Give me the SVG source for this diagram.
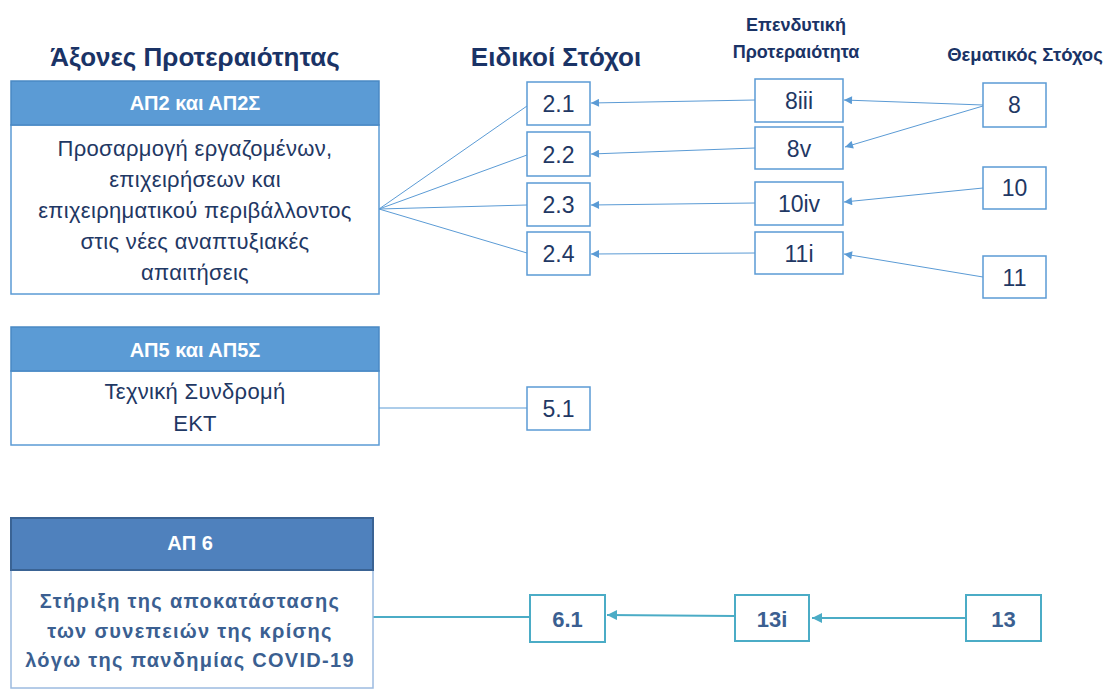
<svg xmlns="http://www.w3.org/2000/svg" width="1112" height="691" viewBox="0 0 1112 691">
<style>
.title{font-family:"Liberation Sans",Arial,sans-serif;font-weight:bold;fill:#1a3366;text-anchor:middle}
.hdr{font-family:"Liberation Sans",Arial,sans-serif;font-weight:bold;fill:#ffffff;text-anchor:middle;font-size:20px}
.body{font-family:"Liberation Sans",Arial,sans-serif;fill:#1f3864;text-anchor:middle;font-size:22px;letter-spacing:0.3px}
.num{font-family:"Liberation Sans",Arial,sans-serif;fill:#1f3864;text-anchor:middle;font-size:23px}
.box{fill:#ffffff;stroke:#5b9bd5;stroke-width:1.5}
.hbox{fill:#5b9bd5;stroke:#4a89c4;stroke-width:1.5}
.conn{stroke:#5b9bd5;stroke-width:1;fill:none}
.tbox{fill:#ffffff;stroke:#4bacc6;stroke-width:2}
.tconn{stroke:#4bacc6;stroke-width:2;fill:none}
.b6{font-family:"Liberation Sans",Arial,sans-serif;font-weight:bold;fill:#3b5f91;text-anchor:middle}
</style>
<defs>
<marker id="ah" viewBox="0 0 10 10" refX="10" refY="5" markerWidth="10" markerHeight="8" markerUnits="userSpaceOnUse" orient="auto"><path d="M0,0 L10,5 L0,10 z" fill="#5b9bd5"/></marker>
<marker id="ah2" viewBox="0 0 10 10" refX="10" refY="5" markerWidth="14" markerHeight="10" markerUnits="userSpaceOnUse" orient="auto"><path d="M0,0 L10,5 L0,10 z" fill="#4bacc6"/></marker>
</defs>
<rect width="1112" height="691" fill="#ffffff"/>

<g id="titles">
<text class="title" x="195" y="66" font-size="26">Άξονες Προτεραιότητας</text>
<text class="title" x="556" y="66" font-size="26">Ειδικοί Στόχοι</text>
<text class="title" x="796" y="31" font-size="18">Επενδυτική</text>
<text class="title" x="796" y="58" font-size="18">Προτεραιότητα</text>
<text class="title" x="1025" y="61" font-size="18.5">Θεματικός Στόχος</text>
</g>

<g id="connectors">
<line class="conn" x1="379" y1="209" x2="527" y2="106"/>
<line class="conn" x1="379" y1="209" x2="527" y2="155"/>
<line class="conn" x1="379" y1="209" x2="527" y2="205"/>
<line class="conn" x1="379" y1="209" x2="527" y2="253"/>
<line class="conn" x1="755" y1="100" x2="591" y2="103" marker-end="url(#ah)"/>
<line class="conn" x1="755" y1="148" x2="591" y2="154" marker-end="url(#ah)"/>
<line class="conn" x1="755" y1="203" x2="591" y2="205" marker-end="url(#ah)"/>
<line class="conn" x1="755" y1="253" x2="591" y2="254" marker-end="url(#ah)"/>
<line class="conn" x1="983" y1="105" x2="844" y2="100" marker-end="url(#ah)"/>
<line class="conn" x1="983" y1="106" x2="845" y2="147" marker-end="url(#ah)"/>
<line class="conn" x1="983" y1="188" x2="844" y2="202" marker-end="url(#ah)"/>
<line class="conn" x1="983" y1="277" x2="844" y2="254" marker-end="url(#ah)"/>
<line class="conn" x1="379" y1="408" x2="527" y2="408"/>
<line class="tconn" x1="373" y1="617" x2="530" y2="617"/>
<line class="tconn" x1="735" y1="616" x2="607" y2="615" marker-end="url(#ah2)"/>
<line class="tconn" x1="965" y1="618" x2="812" y2="618" marker-end="url(#ah2)"/>
</g>

<g id="ap2">
<rect class="box" x="11" y="125" width="368" height="169"/>
<rect class="hbox" x="11" y="81" width="368" height="44"/>
<text class="hdr" x="195" y="110">ΑΠ2 και ΑΠ2Σ</text>
<text class="body" x="195" y="156">Προσαρμογή εργαζομένων,</text>
<text class="body" x="195" y="187">επιχειρήσεων και</text>
<text class="body" x="195" y="218">επιχειρηματικού περιβάλλοντος</text>
<text class="body" x="195" y="249">στις νέες αναπτυξιακές</text>
<text class="body" x="195" y="280">απαιτήσεις</text>
</g>

<g id="ap5">
<rect class="box" x="11" y="371" width="368" height="74"/>
<rect class="hbox" x="11" y="327" width="368" height="44"/>
<text class="hdr" x="195" y="357">ΑΠ5 και ΑΠ5Σ</text>
<text class="body" x="195" y="399">Τεχνική Συνδρομή</text>
<text class="body" x="195" y="431">ΕΚΤ</text>
</g>

<g id="ap6">
<rect x="11" y="570" width="362" height="118" fill="#ffffff" stroke="#9cbbe0" stroke-width="1.5"/>
<rect x="11" y="518" width="362" height="52" fill="#4f81bd" stroke="#3a6394" stroke-width="2"/>
<text class="hdr" x="190" y="550">ΑΠ 6</text>
<text class="b6" x="190" y="608" font-size="20" letter-spacing="1.3">Στήριξη της αποκατάστασης</text>
<text class="b6" x="190" y="638" font-size="20" letter-spacing="1.3">των συνεπειών της κρίσης</text>
<text class="b6" x="190" y="667" font-size="20" letter-spacing="1.3">λόγω της πανδημίας COVID-19</text>
</g>

<g id="n21"><rect class="box" x="527" y="82" width="63" height="43"/><text class="num" x="558.5" y="112">2.1</text></g>
<g id="n22"><rect class="box" x="527" y="132" width="63" height="44"/><text class="num" x="558.5" y="163">2.2</text></g>
<g id="n23"><rect class="box" x="527" y="183" width="63" height="43"/><text class="num" x="558.5" y="213">2.3</text></g>
<g id="n24"><rect class="box" x="527" y="232" width="63" height="43"/><text class="num" x="558.5" y="262">2.4</text></g>
<g id="n51"><rect class="box" x="527" y="387" width="63" height="43"/><text class="num" x="558.5" y="417">5.1</text></g>

<g id="p8iii"><rect class="box" x="755" y="79" width="88" height="43"/><text class="num" x="799" y="109">8iii</text></g>
<g id="p8v"><rect class="box" x="755" y="127" width="88" height="42"/><text class="num" x="799" y="157">8v</text></g>
<g id="p10iv"><rect class="box" x="755" y="182" width="88" height="43"/><text class="num" x="799" y="212">10iv</text></g>
<g id="p11i"><rect class="box" x="755" y="232" width="88" height="42"/><text class="num" x="799" y="262">11i</text></g>

<g id="t8"><rect class="box" x="983" y="83" width="63" height="44"/><text class="num" x="1014.5" y="113">8</text></g>
<g id="t10"><rect class="box" x="983" y="167" width="63" height="42"/><text class="num" x="1014.5" y="196">10</text></g>
<g id="t11"><rect class="box" x="983" y="256" width="63" height="42"/><text class="num" x="1014.5" y="286">11</text></g>

<g id="n61"><rect class="tbox" x="530" y="595" width="75" height="47"/><text class="b6" x="567.5" y="627" font-size="22">6.1</text></g>
<g id="p13i"><rect class="tbox" x="735" y="595" width="74" height="46"/><text class="b6" x="772" y="627" font-size="22">13i</text></g>
<g id="t13"><rect class="tbox" x="966" y="595" width="75" height="46"/><text class="b6" x="1003.5" y="627" font-size="22">13</text></g>
</svg>
